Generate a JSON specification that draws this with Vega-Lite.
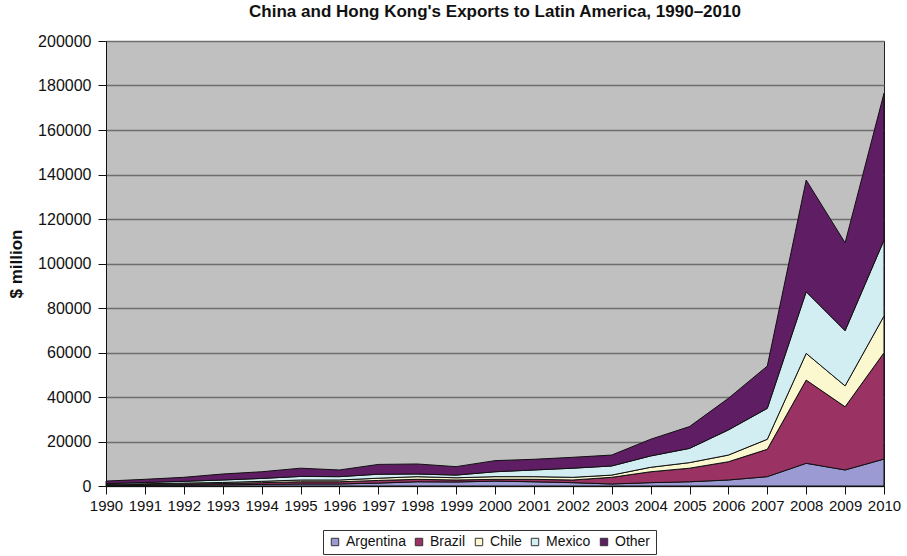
{
  "$schema": "https://vega.github.io/schema/vega-lite/v6.json",
  "width": 778,
  "height": 445,
  "autosize": {"type": "none"},
  "padding": {"left": 106, "top": 41, "right": 23, "bottom": 70},
  "background": "white",
  "config": {
    "font": "Liberation Sans",
    "view": {"fill": "#c0c0c0", "stroke": "#222222", "strokeWidth": 1}
  },
  "title": {
    "text": "China and Hong Kong's Exports to Latin America, 1990–2010",
    "fontSize": 17,
    "fontWeight": "bold",
    "font": "Liberation Sans",
    "color": "#111111",
    "anchor": "middle",
    "offset": 12
  },
  "data": {
    "values": [
      {"year": 1990, "series": "Argentina", "value": 200}, {"year": 1990, "series": "Brazil", "value": 300}, {"year": 1990, "series": "Chile", "value": 200}, {"year": 1990, "series": "Mexico", "value": 400}, {"year": 1990, "series": "Other", "value": 1100},
      {"year": 1991, "series": "Argentina", "value": 300}, {"year": 1991, "series": "Brazil", "value": 400}, {"year": 1991, "series": "Chile", "value": 300}, {"year": 1991, "series": "Mexico", "value": 600}, {"year": 1991, "series": "Other", "value": 1400},
      {"year": 1992, "series": "Argentina", "value": 400}, {"year": 1992, "series": "Brazil", "value": 500}, {"year": 1992, "series": "Chile", "value": 400}, {"year": 1992, "series": "Mexico", "value": 800}, {"year": 1992, "series": "Other", "value": 1800},
      {"year": 1993, "series": "Argentina", "value": 500}, {"year": 1993, "series": "Brazil", "value": 600}, {"year": 1993, "series": "Chile", "value": 500}, {"year": 1993, "series": "Mexico", "value": 1100}, {"year": 1993, "series": "Other", "value": 2700},
      {"year": 1994, "series": "Argentina", "value": 700}, {"year": 1994, "series": "Brazil", "value": 800}, {"year": 1994, "series": "Chile", "value": 600}, {"year": 1994, "series": "Mexico", "value": 1300}, {"year": 1994, "series": "Other", "value": 3000},
      {"year": 1995, "series": "Argentina", "value": 900}, {"year": 1995, "series": "Brazil", "value": 1000}, {"year": 1995, "series": "Chile", "value": 800}, {"year": 1995, "series": "Mexico", "value": 1600}, {"year": 1995, "series": "Other", "value": 3700},
      {"year": 1996, "series": "Argentina", "value": 900}, {"year": 1996, "series": "Brazil", "value": 1000}, {"year": 1996, "series": "Chile", "value": 800}, {"year": 1996, "series": "Mexico", "value": 1500}, {"year": 1996, "series": "Other", "value": 3000},
      {"year": 1997, "series": "Argentina", "value": 1300}, {"year": 1997, "series": "Brazil", "value": 1200}, {"year": 1997, "series": "Chile", "value": 1000}, {"year": 1997, "series": "Mexico", "value": 1800}, {"year": 1997, "series": "Other", "value": 4400},
      {"year": 1998, "series": "Argentina", "value": 1900}, {"year": 1998, "series": "Brazil", "value": 1100}, {"year": 1998, "series": "Chile", "value": 1200}, {"year": 1998, "series": "Mexico", "value": 1200}, {"year": 1998, "series": "Other", "value": 4500},
      {"year": 1999, "series": "Argentina", "value": 1800}, {"year": 1999, "series": "Brazil", "value": 900}, {"year": 1999, "series": "Chile", "value": 1000}, {"year": 1999, "series": "Mexico", "value": 1200}, {"year": 1999, "series": "Other", "value": 3800},
      {"year": 2000, "series": "Argentina", "value": 2200}, {"year": 2000, "series": "Brazil", "value": 800}, {"year": 2000, "series": "Chile", "value": 1200}, {"year": 2000, "series": "Mexico", "value": 2200}, {"year": 2000, "series": "Other", "value": 5000},
      {"year": 2001, "series": "Argentina", "value": 1900}, {"year": 2001, "series": "Brazil", "value": 1100}, {"year": 2001, "series": "Chile", "value": 1200}, {"year": 2001, "series": "Mexico", "value": 3000}, {"year": 2001, "series": "Other", "value": 4800},
      {"year": 2002, "series": "Argentina", "value": 1500}, {"year": 2002, "series": "Brazil", "value": 1200}, {"year": 2002, "series": "Chile", "value": 1200}, {"year": 2002, "series": "Mexico", "value": 4100}, {"year": 2002, "series": "Other", "value": 4900},
      {"year": 2003, "series": "Argentina", "value": 900}, {"year": 2003, "series": "Brazil", "value": 3000}, {"year": 2003, "series": "Chile", "value": 1000}, {"year": 2003, "series": "Mexico", "value": 4100}, {"year": 2003, "series": "Other", "value": 4900},
      {"year": 2004, "series": "Argentina", "value": 1500}, {"year": 2004, "series": "Brazil", "value": 4900}, {"year": 2004, "series": "Chile", "value": 2000}, {"year": 2004, "series": "Mexico", "value": 5100}, {"year": 2004, "series": "Other", "value": 7500},
      {"year": 2005, "series": "Argentina", "value": 1900}, {"year": 2005, "series": "Brazil", "value": 6100}, {"year": 2005, "series": "Chile", "value": 2500}, {"year": 2005, "series": "Mexico", "value": 6400}, {"year": 2005, "series": "Other", "value": 9800},
      {"year": 2006, "series": "Argentina", "value": 2700}, {"year": 2006, "series": "Brazil", "value": 8200}, {"year": 2006, "series": "Chile", "value": 3000}, {"year": 2006, "series": "Mexico", "value": 11300}, {"year": 2006, "series": "Other", "value": 14200},
      {"year": 2007, "series": "Argentina", "value": 4200}, {"year": 2007, "series": "Brazil", "value": 12300}, {"year": 2007, "series": "Chile", "value": 4500}, {"year": 2007, "series": "Mexico", "value": 13900}, {"year": 2007, "series": "Other", "value": 19000},
      {"year": 2008, "series": "Argentina", "value": 10200}, {"year": 2008, "series": "Brazil", "value": 37400}, {"year": 2008, "series": "Chile", "value": 12000}, {"year": 2008, "series": "Mexico", "value": 27700}, {"year": 2008, "series": "Other", "value": 50200},
      {"year": 2009, "series": "Argentina", "value": 7200}, {"year": 2009, "series": "Brazil", "value": 28400}, {"year": 2009, "series": "Chile", "value": 9400}, {"year": 2009, "series": "Mexico", "value": 24800}, {"year": 2009, "series": "Other", "value": 39500},
      {"year": 2010, "series": "Argentina", "value": 12100}, {"year": 2010, "series": "Brazil", "value": 47800}, {"year": 2010, "series": "Chile", "value": 16500}, {"year": 2010, "series": "Mexico", "value": 34100}, {"year": 2010, "series": "Other", "value": 66000}
    ]
  },
  "mark": {"type": "area", "stroke": "#111111", "strokeWidth": 1, "opacity": 1, "fillOpacity": 1},
  "encoding": {
    "x": {
      "field": "year",
      "type": "quantitative",
      "scale": {"domain": [1990, 2010], "nice": false, "zero": false},
      "axis": {
        "title": null,
        "values": [1990,1991,1992,1993,1994,1995,1996,1997,1998,1999,2000,2001,2002,2003,2004,2005,2006,2007,2008,2009,2010],
        "format": "d",
        "grid": false,
        "domainColor": "#111111",
        "tickColor": "#111111",
        "tickSize": 8,
        "labelFontSize": 15,
        "labelColor": "#111111",
        "labelPadding": 4,
        "labelFlush": false,
        "labelOverlap": false
      }
    },
    "y": {
      "field": "value",
      "type": "quantitative",
      "stack": "zero",
      "scale": {"domain": [0, 200000], "nice": false},
      "axis": {
        "title": "$ million",
        "titleFontSize": 17,
        "titleFontWeight": "bold",
        "titleColor": "#111111",
        "titlePadding": 12,
        "values": [0,20000,40000,60000,80000,100000,120000,140000,160000,180000,200000],
        "format": "d",
        "grid": true,
        "gridColor": "#6e6e6e",
        "gridWidth": 1.5,
        "domainColor": "#111111",
        "tickColor": "#111111",
        "tickSize": 8,
        "labelFontSize": 16,
        "labelColor": "#111111",
        "labelPadding": 7
      }
    },
    "color": {
      "field": "series",
      "type": "nominal",
      "scale": {
        "domain": ["Argentina", "Brazil", "Chile", "Mexico", "Other"],
        "range": ["#9c9ad3", "#9a3264", "#fbf8d0", "#d3eef2", "#5f1d63"]
      },
      "legend": {
        "title": null,
        "orient": "none",
        "direction": "horizontal",
        "legendX": 217,
        "legendY": 489,
        "symbolType": "square",
        "symbolSize": 55,
        "symbolStrokeColor": "#333333",
        "symbolStrokeWidth": 1,
        "labelFontSize": 14,
        "labelColor": "#111111",
        "columnPadding": 6,
        "strokeColor": "#333333",
        "padding": 5,
        "fillColor": "white"
      }
    },
    "order": {"field": "series", "sort": "ascending"}
  }
}
